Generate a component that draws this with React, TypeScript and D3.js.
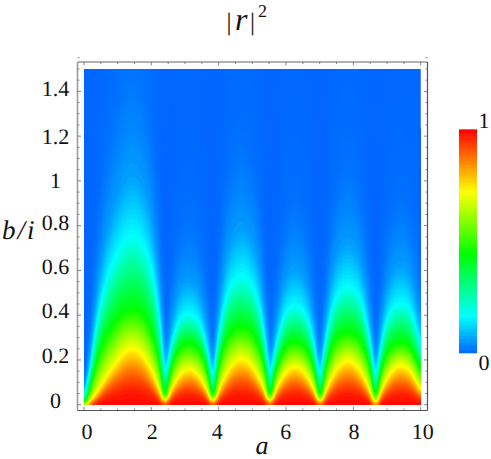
import React, { useMemo } from "react";
import * as d3 from "d3";

// Positions along a, and the height in b/i of three colour contours at each
const aSamples = [0,0.1,0.2,0.4,0.6,0.8,1,1.2,1.4,1.6,1.8,2,2.2,2.33,2.405,2.48,2.6,2.8,3,3.2,3.4,3.6,3.75,3.83,3.91,4,4.2,4.4,4.6,4.8,5,5.2,5.4,5.46,5.52,5.6,5.8,6,6.2,6.4,6.6,6.8,6.94,7.015,7.09,7.2,7.4,7.6,7.8,8,8.2,8.4,8.58,8.655,8.73,8.8,9,9.2,9.4,9.6,9.8,10];
const yellowHeight = [0,0.003,0.012,0.055,0.11,0.158,0.2,0.239,0.256,0.247,0.212,0.154,0.08,0.03,0,0.03,0.07,0.126,0.157,0.159,0.132,0.08,0.03,0,0.028,0.062,0.13,0.182,0.208,0.205,0.173,0.117,0.046,0.02,0,0.03,0.098,0.149,0.173,0.168,0.134,0.077,0.025,0,0.028,0.069,0.134,0.181,0.201,0.192,0.154,0.094,0.027,0,0.025,0.054,0.119,0.163,0.18,0.167,0.126,0.058];
const greenHeight = [0,0.05,0.1,0.215,0.295,0.345,0.391,0.418,0.43,0.424,0.4,0.33,0.225,0.13,0,0.11,0.18,0.25,0.272,0.273,0.255,0.195,0.11,0,0.125,0.19,0.292,0.332,0.349,0.347,0.325,0.265,0.165,0.11,0,0.115,0.205,0.266,0.282,0.279,0.256,0.185,0.105,0,0.12,0.19,0.279,0.313,0.326,0.32,0.295,0.225,0.12,0,0.105,0.155,0.241,0.272,0.282,0.274,0.23,0.15];
const cyanHeight = [0,0.09,0.17,0.38,0.52,0.617,0.685,0.74,0.766,0.754,0.705,0.609,0.44,0.23,0,0.16,0.265,0.367,0.404,0.406,0.374,0.285,0.16,0,0.19,0.3,0.47,0.546,0.58,0.576,0.534,0.448,0.26,0.17,0,0.17,0.32,0.417,0.446,0.44,0.397,0.29,0.155,0,0.185,0.3,0.446,0.51,0.535,0.524,0.475,0.36,0.18,0,0.16,0.24,0.382,0.44,0.46,0.445,0.38,0.25];
// Colour falloff below yellow (height / yellow height -> value)
const lowRatio = [0,0.25,0.5,0.75,1];
const lowValue = [1,0.975,0.91,0.82,0.72];
const greenValue = 0.444;
// Colour falloff above cyan (height / cyan height -> value)
const tailRatio = [1,1.17,1.33,1.57,1.95,2.33,3.3,6.7];
const tailValue = [0.167,0.115,0.07,0.04,0.015,0.008,0.003,0];

const xTicks = [0,2,4,6,8,10];
const xLabelShift = [3,1,-1.4,-0.3,0.7,2];
const xMinor = d3.range(0,10.01,0.5);
const yTicks = [0,0.2,0.4,0.6,0.8,1,1.2,1.4];
const yLabels = ["0","0.2","0.4","0.6","0.8","1","1.2","1.4"];
const yLabelDrop = [3.3,2.7,3,4,4.2,7,7.6,4.5];
const yMinor = d3.range(0,1.551,0.05);

const W = 491, H = 459;
const serif = "'Liberation Serif', 'Times New Roman', serif";
const darkFrame = "#555";
const lightFrame = "#999";

const x = d3.scaleLinear().domain([0,10]).range([84,420.7]);
const y = d3.scaleLinear().domain([0,1.5]).range([404.7,69]);
const color = (v: number) => d3.hsl(216*(1-v),1,0.5).formatHex();

// Smooth reading of a table inside each arch, keeping the cusp where the height is zero
function heightAt(table: number[], a: number) {
  const n = aSamples.length;
  const i = Math.min(n-2, Math.max(0, d3.bisectRight(aSamples, a)-1));
  const slope = (p: number, q: number) => (table[q]-table[p])/(aSamples[q]-aSamples[p]);
  const tan = (k: number, side: number) => {
    if (table[k] === 0 || k === n-1) return side > 0 ? slope(k,k+1) : slope(k-1,k);
    return slope(k-1,k+1);
  };
  const h = aSamples[i+1]-aSamples[i];
  const t = (a-aSamples[i])/h;
  const m0 = tan(i,1)*h, m1 = tan(i+1,-1)*h;
  const p0 = table[i], p1 = table[i+1];
  const t2=t*t, t3=t2*t;
  return Math.max(0,(2*t3-3*t2+1)*p0+(t3-2*t2+t)*m0+(-2*t3+3*t2)*p1+(t3-t2)*m1);
}

export default function App() {
  const bands = useMemo(() => {
    const nx = 337, ny = 336;
    const vals = new Float64Array(nx*ny);
    for (let i=0;i<nx;i++) {
      const a = x.invert(84 + i + 0.5);
      const yl = Math.max(heightAt(yellowHeight,a),0.0008);
      const gr = Math.max(heightAt(greenHeight,a),yl*1.2);
      const cy = Math.max(heightAt(cyanHeight,a),gr*1.2);
      const dom = [...lowRatio.map(r=>r*yl), gr, ...tailRatio.map(r=>r*cy)];
      const rng = [...lowValue, greenValue, ...tailValue];
      const prof = d3.scaleLinear().domain(dom).range(rng).clamp(true);
      for (let j=0;j<ny;j++) {
        vals[j*nx+i] = prof(y.invert(69 + j + 0.5));
      }
    }
    d3.blur2({data: vals, width: nx, height: ny}, 2);
    const thresholds = [...d3.range(0.002,0.05,0.002), ...d3.range(0.05,1,0.01)];
    const gen = d3.contours().size([nx,ny]).thresholds(thresholds).smooth(true);
    const proj = d3.geoTransform({point(px: number, py: number){ (this as any).stream.point(84+px, 69+py); }});
    const path = d3.geoPath(proj);
    return gen(Array.from(vals)).map((c: any) => ({v: c.value, d: path(c) || ""}));
  }, []);

  const legendN = 64;
  const legY = d3.scaleLinear().domain([0,1]).range([352.7,129.3]);
  const fl = 77.5, fr = 427.5, ft = 62, fb = 410.5;
  return (
    <svg width={W} height={H} style={{position:"absolute",left:0,top:0,background:"#fff",fontFamily:serif,textRendering:"geometricPrecision"}} fill="#111">
      <rect x={84} y={69} width={336.7} height={336} fill={color(0)} />
      {bands.map((b,i)=><path key={i} d={b.d} fill={color(b.v)} />)}
      <line x1={fl} x2={fl} y1={ft} y2={fb} stroke={lightFrame} strokeWidth={1.5} />
      <line x1={fl} x2={fr} y1={ft} y2={ft} stroke={lightFrame} strokeWidth={1.5} />
      <line x1={fr} x2={fr} y1={ft} y2={fb} stroke={darkFrame} strokeWidth={1.2} />
      <line x1={fl} x2={fr} y1={fb} y2={fb} stroke={darkFrame} strokeWidth={1.2} />
      {xMinor.map(t=>{
        const major = xTicks.includes(t); const l = major?3.5:2;
        return <g key={t} stroke={darkFrame} strokeWidth={0.7}>
          <line x1={x(t)} x2={x(t)} y1={fb} y2={fb-l} />
          <line x1={x(t)} x2={x(t)} y1={ft} y2={ft+l} />
        </g>;
      })}
      {yMinor.map(t=>{
        const major = yTicks.some(v=>Math.abs(v-t)<1e-6); const l = major?3.5:2;
        return <g key={t} stroke={darkFrame} strokeWidth={0.7}>
          <line y1={y(t)} y2={y(t)} x1={fl} x2={fl+l} />
          <line y1={y(t)} y2={y(t)} x1={fr} x2={fr-l} />
        </g>;
      })}
      {xTicks.map((t,i)=><text key={t} x={x(t)+xLabelShift[i]} y={438.5} fontSize={22} textAnchor="middle">{t}</text>)}
      {yTicks.map((t,i)=><text key={t} x={55.5} y={y(t)+yLabelDrop[i]} fontSize={22} textAnchor="middle">{yLabels[i]}</text>)}
      <text x={262} y={453.5} fontSize={26} fontStyle="italic" textAnchor="middle">a</text>
      <text x={2} y={239} fontSize={27} fontStyle="italic" letterSpacing={2}>b/i</text>
      <text x={226.5} y={30} fontSize={25}>|</text>
      <text x={235} y={30} fontSize={32} fontStyle="italic">r</text>
      <text x={250} y={30} fontSize={25}>|</text>
      <text x={258} y={17} fontSize={18}>2</text>
      {d3.range(legendN).map(i=>{
        const v0=i/legendN, v1=(i+1)/legendN;
        return <rect key={i} x={459} width={18} y={legY(v1)} height={legY(v0)-legY(v1)+0.6} fill={color(v0+0.5/legendN)} />;
      })}
      <text x={484} y={128} fontSize={22} textAnchor="middle">1</text>
      <text x={484} y={370} fontSize={22} textAnchor="middle">0</text>
    </svg>
  );
}
